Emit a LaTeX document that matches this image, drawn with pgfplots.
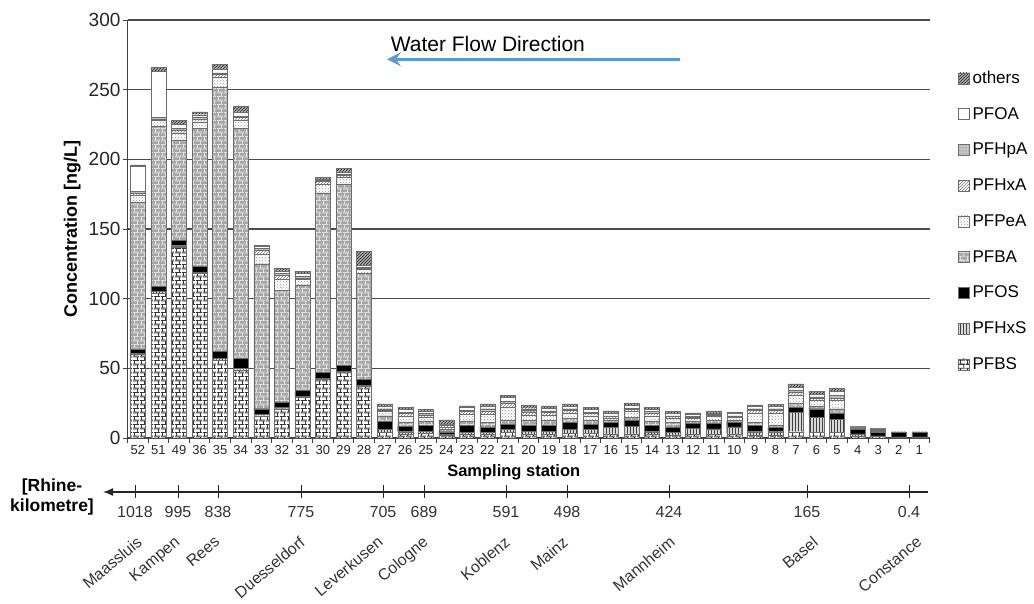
\documentclass[border=0pt]{standalone}
\usepackage{fontspec}
\setmainfont{Liberation Sans}
\usepackage{pgfplots}
\usepackage{pgfplotstable}
\pgfplotsset{compat=1.18}
\usetikzlibrary{patterns,arrows.meta}

% brick tile for PFBS / PFBA
\pgfdeclarepatternformonly{smallbricks}{\pgfpointorigin}{\pgfpoint{7pt}{8pt}}{\pgfpoint{7pt}{8pt}}{
  \pgfsetlinewidth{0.9pt}
  \pgfpathmoveto{\pgfpoint{0pt}{0pt}}\pgfpathlineto{\pgfpoint{7pt}{0pt}}
  \pgfpathmoveto{\pgfpoint{0pt}{4pt}}\pgfpathlineto{\pgfpoint{7pt}{4pt}}
  \pgfpathmoveto{\pgfpoint{0pt}{8pt}}\pgfpathlineto{\pgfpoint{7pt}{8pt}}
  \pgfpathmoveto{\pgfpoint{1.75pt}{0pt}}\pgfpathlineto{\pgfpoint{1.75pt}{4pt}}
  \pgfpathmoveto{\pgfpoint{5.25pt}{4pt}}\pgfpathlineto{\pgfpoint{5.25pt}{8pt}}
  \pgfusepath{stroke}
}

\definecolor{flowblue}{RGB}{91,155,213}
\colorlet{barline}{gray!85!black}

\pgfplotsset{
  pfbs/.style={draw=barline, fill=white, postaction={pattern=smallbricks, pattern color=black!80}},
  pfhxs/.style={draw=barline, fill=gray!30, postaction={pattern=vertical lines, pattern color=gray!50!black}},
  pfos/.style={draw=barline, fill=black},
  pfba/.style={draw=barline, fill=gray!70, postaction={pattern=smallbricks, pattern color=gray!25}},
  pfpea/.style={draw=barline, fill=white, postaction={pattern=crosshatch dots, pattern color=gray!80}},
  pfhxa/.style={draw=barline, fill=white, postaction={pattern=north east lines, pattern color=gray}},
  pfhpa/.style={draw=barline, fill=gray!45, postaction={pattern=dots, pattern color=gray!60!black}},
  pfoa/.style={draw=barline, fill=white},
  others/.style={draw=barline, fill=gray!65, postaction={pattern=north east lines, pattern color=gray!30!black}},
}

% station, then concentrations in ng/L, bottom of stack first
\pgfplotstableread{
st PFBS PFHxS PFOS PFBA PFPeA PFHxA PFHpA PFOA others
52 60 1 3 105 5 2 1 18 1
51 104 1 4 115 4 1 1 33 3
49 137 1 4 72 5 2 1 3 3
36 118 1 4 99 5 2 1 2 2
35 56 1 5 190 7 2 1 3 3
34 49 1 7 165 6 2 1 3 4
33 16 1 4 104 7 3 1 1.5 1
32 21 1 4 80 8 3 1 2 2
31 29 1 4 76 4 1 1 2 1.5
30 42 1 4 129 6 2 1 1 1
29 47 1 4 130 5 1.5 0.5 2 2.5
28 37 1 4 76 3 1 0.5 1.5 10
27 4 2 6 4 3 1 1 2 1.5
26 3 1.5 4 3 4 2 1 2 1.3
25 3.5 1.5 4 3 3 1.5 1 2 1
24 2 0.5 2 2 1.5 1 0.5 0.5 3
23 3 1 5 3 5 2 1 2 1
22 3 1 4 3 6 2.5 1.5 2 1.4
21 4 2 4 3 9 3 1.5 2.5 1.4
20 3 2 4.5 3 4 2 1.5 1 2.5
19 3 2 4.5 3 4 2 1 2 1.5
18 3.5 2.5 5 3 4 2 1 2 1.4
17 3.5 2.5 4 3 3 1.5 1 2 1.5
16 3 4.5 3.5 1.5 2 1 0.5 2 1.5
15 3 5.5 4.5 2 4 1.5 1 2 1.5
14 2.5 2 4.5 3 4 2 1 1.5 1.5
13 2 2 4 3 3 1.5 0.5 1.5 1.4
12 2.5 4.5 3.5 1.5 2 1 0.5 1.5 1
11 2.5 4 4 2 3 1 0.5 1 1.5
10 3 5 3.5 1.5 2 0.5 0.5 1.5 1
9 2 2.5 4.5 2 7 2 1 1.5 1.2
8 2 2.5 3 2 8 2.5 1 1.5 1.7
7 4.5 14 3.5 3 6 2 1.5 2 2.3
6 4 11 6 2 4 1.5 1 2 1.8
5 4 9.5 4.5 3 6 1.5 2 3 2
4 1.5 1.5 3 0.5 0.5 0.3 0.2 0.5 0.5
3 1 0.5 2.5 1 0.5 0.5 0.3 0.2 0.5
2 0.5 0.3 3 0.2 0.1 0.1 0.1 0.1 0.1
1 0.5 0.3 3 0.2 0.1 0.1 0.1 0.1 0.1
}\data

\begin{document}
\begin{tikzpicture}
\path[use as bounding box] (0,0) rectangle (1034pt,604pt);

\begin{axis}[
  at={(127.6pt,166pt)}, anchor=south west,
  scale only axis, width=802pt, height=418pt,
  ybar stacked, bar width=15pt,
  xmin=-0.5, xmax=38.5, ymin=0, ymax=300,
  enlarge x limits=false,
  axis x line*=bottom, axis y line*=left,
  axis line style={black!75, line width=1pt},
  ymajorgrids, grid style={black!70, line width=1.3pt},
  ytick={0,50,...,300},
  xtick={0,...,38},
  xticklabels from table={\data}{st},
  minor xtick={-0.5,0.5,...,38.5},
  tick align=outside,
  major tick length=5pt, minor tick length=5pt,
  major x tick style={draw=none},
  minor x tick style={black!75, line width=0.8pt},
  y tick style={black!75, line width=0.8pt},
  /pgf/number format/assume math mode=true,
  yticklabel style={font=\fontsize{19}{22}\selectfont, text=black!85, inner sep=2pt},
  xticklabel style={font=\fontsize{13}{15}\selectfont, text=black!85, inner sep=1pt, yshift=-1pt},
  ylabel={\bfseries Concentration [ng/L]},
  ylabel style={at={(axis description cs:-0.069,0.5)}, anchor=center, font=\fontsize{18}{21}\selectfont},
  xlabel={\bfseries Sampling station},
  xlabel style={at={(axis description cs:0.4815,-0.083)}, anchor=center, font=\fontsize{16.5}{19}\selectfont},
  reverse legend,
  legend cell align=left,
  legend style={at={(axis description cs:1.0354,0.880)}, anchor=north west,
    draw=none, fill=none, inner sep=0pt, font=\fontsize{17}{20}\selectfont, row sep=17.75pt,
    nodes={inner sep=1pt, text height=12pt, text depth=4pt}},
  legend image code/.code={\draw[#1] (0pt,-4.5pt) rectangle (11pt,6.5pt);},
]
\addplot[pfbs] table[x expr=\coordindex, y=PFBS] {\data};
\addplot[pfhxs] table[x expr=\coordindex, y=PFHxS] {\data};
\addplot[pfos] table[x expr=\coordindex, y=PFOS] {\data};
\addplot[pfba] table[x expr=\coordindex, y=PFBA] {\data};
\addplot[pfpea] table[x expr=\coordindex, y=PFPeA] {\data};
\addplot[pfhxa] table[x expr=\coordindex, y=PFHxA] {\data};
\addplot[pfhpa] table[x expr=\coordindex, y=PFHpA] {\data};
\addplot[pfoa] table[x expr=\coordindex, y=PFOA] {\data};
\addplot[others] table[x expr=\coordindex, y=others] {\data};
\legend{\hspace{2pt}PFBS,\hspace{2pt}PFHxS,\hspace{2pt}PFOS,\hspace{2pt}PFBA,\hspace{2pt}PFPeA,\hspace{2pt}PFHxA,\hspace{2pt}PFHpA,\hspace{2pt}PFOA,\hspace{2pt}others}

\node[anchor=west, inner sep=0pt, font=\fontsize{21}{24}\selectfont] at (axis description cs:0.3280,0.9426) {Water Flow Direction};
\draw[flowblue, line width=3pt, -{Stealth[length=14pt,width=14pt,inset=5pt]}] (axis description cs:0.6889,0.906) -- (axis description cs:0.3234,0.906);
\end{axis}

% Rhine-kilometre scale
\begin{axis}[
  at={(103pt,112pt)}, anchor=south west,
  scale only axis, width=825pt, height=20pt,
  xmin=103, xmax=928, ymin=0, ymax=1,
  axis x line*=bottom, hide y axis,
  x axis line style={{Latex[length=10pt,width=8pt]}-, line width=1.5pt, draw=black!85},
  xtick={135,178,218,301,383,424,506,567,669,807,909},
  xticklabels={1018,995,838,775,705,689,591,498,424,165,0.4},
  tick align=center, major tick length=13pt,
  major x tick style={line width=1pt, black!85},
  xticklabel style={font=\fontsize{16}{18}\selectfont, text=black!80, yshift=-4pt},
  extra x ticks={133,171,211,296,374,419,501,559,666,809,913},
  extra x tick labels={Maassluis,Kampen,Rees,Duesseldorf,Leverkusen,Cologne,Koblenz,Mainz,Mannheim,Basel,Constance},
  extra x tick style={major tick length=0pt,
    tick label style={yshift=-40pt, rotate=40, anchor=north east, inner sep=0pt,
      font=\fontsize{19.5}{21}\selectfont, text=black!85}},
]
\end{axis}
\node[align=center, font=\bfseries\fontsize{17.5}{20}\selectfont] at (52pt,107pt) {[Rhine-\\kilometre]};
\end{tikzpicture}
\end{document}
